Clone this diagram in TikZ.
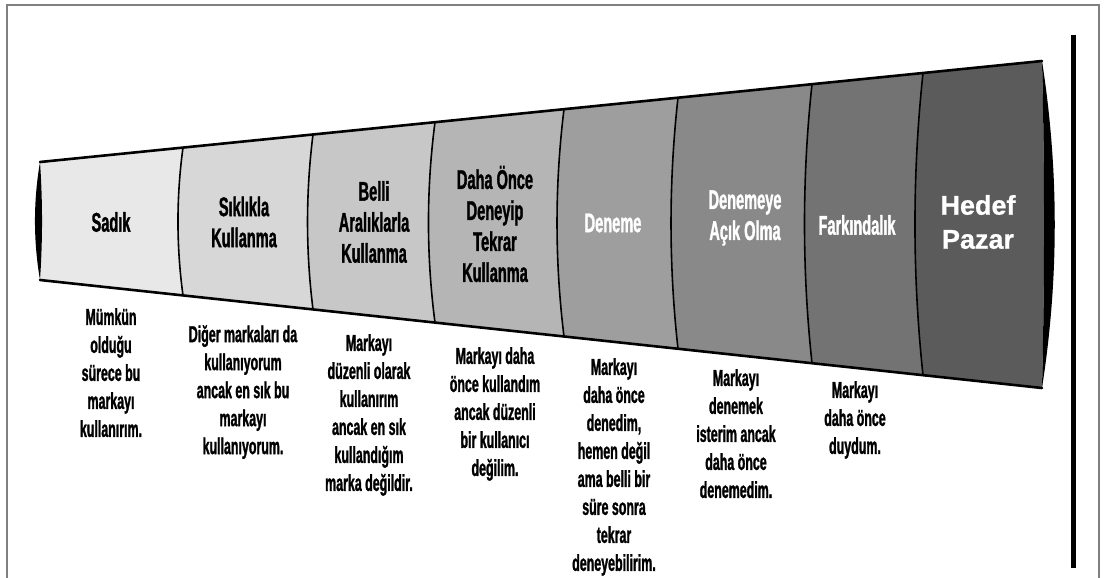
\documentclass[tikz,border=0pt]{standalone}
\usepackage{fontspec}
\usepackage{xcolor}
\usepackage{tikz}
\usetikzlibrary{calc}

\newfontfamily\condfont[FakeStretch=0.54,FakeBold=1.2]{Liberation Sans}
\newfontfamily\wideface[FakeBold=0.8]{Liberation Sans}

\definecolor{segA}{HTML}{E8E8E8}
\definecolor{segB}{HTML}{D7D7D7}
\definecolor{segC}{HTML}{C7C7C7}
\definecolor{segD}{HTML}{B5B5B5}
\definecolor{segE}{HTML}{9E9E9E}
\definecolor{segF}{HTML}{898989}
\definecolor{segG}{HTML}{737373}
\definecolor{segH}{HTML}{5B5B5B}

\tikzset{
  bow/.style={to path={.. controls ($(\tikztostart)!1/3!(\tikztotarget)+(#1,0)$) and ($(\tikztostart)!2/3!(\tikztotarget)+(#1,0)$) .. (\tikztotarget)}},
  rim/.style={line width=2.6pt,line cap=round},
  divider/.style={line width=1.6pt},
  seglabel/.style={font=\condfont\bfseries\fontsize{27}{31}\selectfont,align=center,inner sep=0pt},
  desc/.style={font=\condfont\bfseries\fontsize{23}{28}\selectfont,align=center,anchor=north,inner sep=0pt}
}

\begin{document}
\begin{tikzpicture}[x=1pt,y=-1pt]
\useasboundingbox (0,0) rectangle (1104,578);

% frame
\draw[black!50,line width=1.2pt] (7,578) -- (7,5) -- (1099,5) -- (1099,578);

% funnel corners and dividers
\coordinate (t0) at (40,162);    \coordinate (b0) at (40,280);
\coordinate (t1) at (183,147.6); \coordinate (b1) at (183,295.4);
\coordinate (t2) at (313,134.5); \coordinate (b2) at (313,309.4);
\coordinate (t3) at (435,122.2); \coordinate (b3) at (435,322.6);
\coordinate (t4) at (564,109.2); \coordinate (b4) at (564,336.5);
\coordinate (t5) at (678,97.7);  \coordinate (b5) at (678,348.8);
\coordinate (t6) at (812,84.2);  \coordinate (b6) at (812,363.2);
\coordinate (t7) at (923,73.0);  \coordinate (b7) at (923,375.2);
\coordinate (t8) at (1042,61);   \coordinate (b8) at (1042,388);

% segments
\fill[segA] (t0) -- (t1) to[bow=-6.7] (b1) -- (b0) to[bow=2.7] (t0) -- cycle;
\fill[segB] (t1) -- (t2) to[bow=-7.3] (b2) -- (b1) to[bow=-6.7] (t1) -- cycle;
\fill[segC] (t2) -- (t3) to[bow=-8.7] (b3) -- (b2) to[bow=-7.3] (t2) -- cycle;
\fill[segD] (t3) -- (t4) to[bow=-9.3] (b4) -- (b3) to[bow=-8.7] (t3) -- cycle;
\fill[segE] (t4) -- (t5) to[bow=-9.3] (b5) -- (b4) to[bow=-9.3] (t4) -- cycle;
\fill[segF] (t5) -- (t6) to[bow=-10] (b6) -- (b5) to[bow=-9.3] (t5) -- cycle;
\fill[segG] (t6) -- (t7) to[bow=-10.7] (b7) -- (b6) to[bow=-10] (t6) -- cycle;
\fill[segH] (t7) -- (t8) to[bow=2.7] (b8) -- (b7) to[bow=-10.7] (t7) -- cycle;

% outline
\draw[divider] (t1) to[bow=-6.7] (b1);
\draw[divider] (t2) to[bow=-7.3] (b2);
\draw[divider] (t3) to[bow=-8.7] (b3);
\draw[divider] (t4) to[bow=-9.3] (b4);
\draw[divider] (t5) to[bow=-9.3] (b5);
\draw[divider] (t6) to[bow=-10] (b6);
\draw[divider] (t7) to[bow=-10.7] (b7);
\draw[rim] (t0) -- (t8);
\draw[rim] (b0) -- (b8);
\fill (t0) to[bow=-6.7] (b0) to[bow=2.7] (t0) -- cycle;
\fill (t8) to[bow=17] (b8) to[bow=2.7] (t8) -- cycle;

% right bar
\draw[line width=5pt] (1073,35) -- (1073,568);

% labels in the funnel
\node[seglabel] (sadik) at (111,222) {Sadık};
\node[seglabel] (siklikla) at (244,222) {Sıklıkla\\Kullanma};
\node[seglabel] (belli) at (374,222) {Belli\\Aralıklarla\\Kullanma};
\node[seglabel] (tekrar) at (495,224) {Daha Önce\\Deneyip\\Tekrar\\Kullanma};
\node[seglabel,white] (deneme) at (613,223) {Deneme};
\node[seglabel,white] (acik) at (745,218) {Denemeye\\Açık Olma};
\node[seglabel,white] (farkindalik) at (857,225) {Farkındalık};
\node[seglabel,white,font=\wideface\bfseries\fontsize{27}{34}\selectfont] (hedef) at (978,222) {Hedef\\Pazar};

% descriptions
\node[desc] (dsadik) at (111,308) {Mümkün\\olduğu\\sürece bu\\markayı\\kullanırım.};
\node[desc] (dsiklikla) at (243,325) {Diğer markaları da\\kullanıyorum\\ancak en sık bu\\markayı\\kullanıyorum.};
\node[desc] (dbelli) at (369,334) {Markayı\\düzenli olarak\\kullanırım\\ancak en sık\\kullandığım\\marka değildir.};
\node[desc] (dtekrar) at (495,347) {Markayı daha\\önce kullandım\\ancak düzenli\\bir kullanıcı\\değilim.};
\node[desc] (ddeneme) at (614,358) {Markayı\\daha önce\\denedim,\\hemen değil\\ama belli bir\\süre sonra\\tekrar\\deneyebilirim.};
\node[desc] (dacik) at (736,369) {Markayı\\denemek\\isterim ancak\\daha önce\\denemedim.};
\node[desc] (dfarkindalik) at (855,381) {Markayı\\daha önce\\duydum.};
\end{tikzpicture}
\end{document}
